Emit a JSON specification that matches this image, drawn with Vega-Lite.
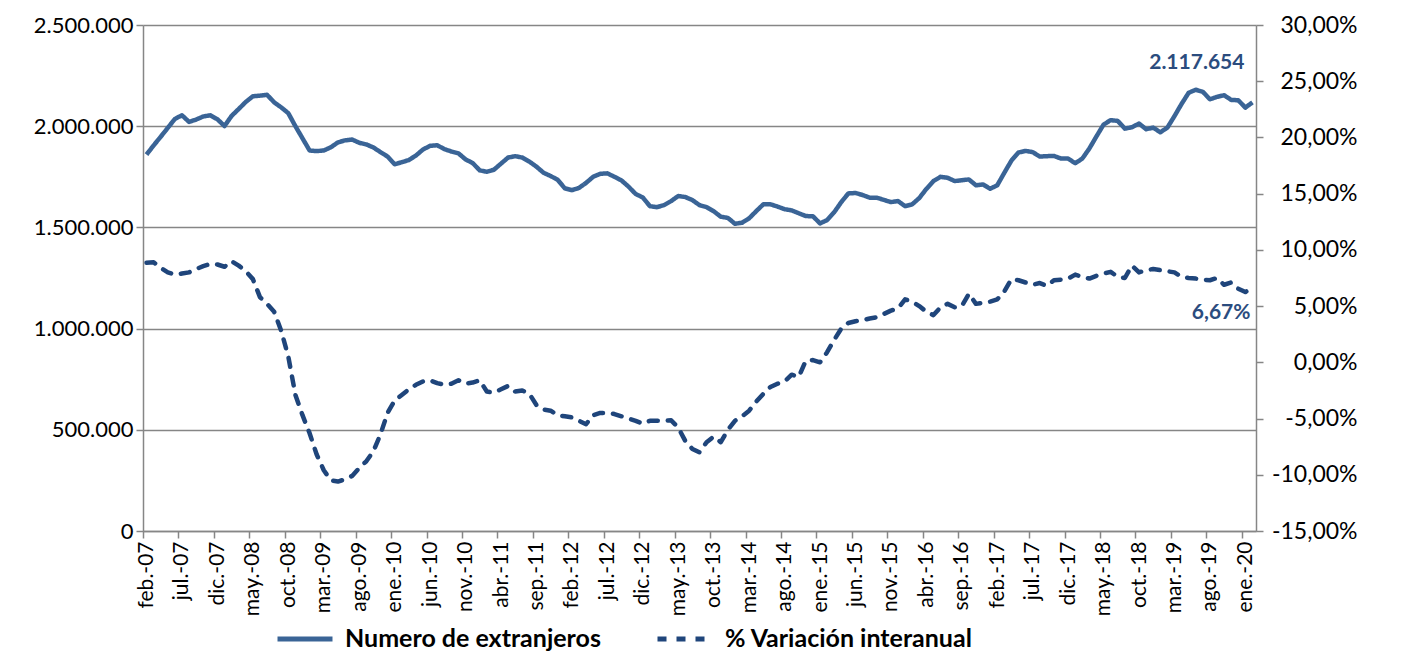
{
  "$schema": "https://vega.github.io/schema/vega-lite/v6.json",
  "width": 1113,
  "height": 506,
  "autosize": "none",
  "padding": {"left": 143, "top": 25, "right": 148, "bottom": 137},
  "background": "white",
  "config": {
    "locale": {"number": {"decimal": ",", "thousands": ".", "grouping": [3], "currency": ["", " €"], "minus": "-"}},
    "view": {"stroke": null},
    "font": "Lato",
    "axis": {"labelFont": "Lato", "labelFontSize": 22, "labelColor": "#000000", "domainColor": "#868686", "domainWidth": 1.5, "tickColor": "#868686", "tickWidth": 1.5, "tickSize": 7, "gridColor": "#868686", "gridWidth": 1.5, "title": null}
  },
  "data": {"values": [
    {"mes":"feb.-07","n":1860000,"p":0.0885},{"mes":"mar.-07","n":1905000,"p":0.089},{"mes":"abr.-07","n":1948000,"p":0.084},{"mes":"may.-07","n":1992000,"p":0.080},{"mes":"jun.-07","n":2036000,"p":0.078},{"mes":"jul.-07","n":2054000,"p":0.079},{"mes":"ago.-07","n":2021000,"p":0.080},{"mes":"sep.-07","n":2033000,"p":0.083},{"mes":"oct.-07","n":2048000,"p":0.0855},{"mes":"nov.-07","n":2054000,"p":0.0875},{"mes":"dic.-07","n":2034000,"p":0.087},
    {"mes":"ene.-08","n":2001000,"p":0.085},{"mes":"feb.-08","n":2051000,"p":0.090},{"mes":"mar.-08","n":2085000,"p":0.086},{"mes":"abr.-08","n":2120000,"p":0.081},{"mes":"may.-08","n":2148000,"p":0.074},{"mes":"jun.-08","n":2151000,"p":0.058},{"mes":"jul.-08","n":2155000,"p":0.052},{"mes":"ago.-08","n":2118000,"p":0.045},{"mes":"sep.-08","n":2093000,"p":0.028},{"mes":"oct.-08","n":2064000,"p":0.005},{"mes":"nov.-08","n":2000000,"p":-0.029},{"mes":"dic.-08","n":1940000,"p":-0.047},
    {"mes":"ene.-09","n":1880000,"p":-0.063},{"mes":"feb.-09","n":1877000,"p":-0.082},{"mes":"mar.-09","n":1880000,"p":-0.096},{"mes":"abr.-09","n":1896000,"p":-0.105},{"mes":"may.-09","n":1920000,"p":-0.106},{"mes":"jun.-09","n":1930000,"p":-0.104},{"mes":"jul.-09","n":1934000,"p":-0.101},{"mes":"ago.-09","n":1918000,"p":-0.094},{"mes":"sep.-09","n":1910000,"p":-0.088},{"mes":"oct.-09","n":1895000,"p":-0.079},{"mes":"nov.-09","n":1872000,"p":-0.064},{"mes":"dic.-09","n":1850000,"p":-0.045},
    {"mes":"ene.-10","n":1812000,"p":-0.034},{"mes":"feb.-10","n":1822000,"p":-0.029},{"mes":"mar.-10","n":1833000,"p":-0.024},{"mes":"abr.-10","n":1855000,"p":-0.020},{"mes":"may.-10","n":1885000,"p":-0.017},{"mes":"jun.-10","n":1903000,"p":-0.016},{"mes":"jul.-10","n":1906000,"p":-0.0185},{"mes":"ago.-10","n":1887000,"p":-0.020},{"mes":"sep.-10","n":1875000,"p":-0.019},{"mes":"oct.-10","n":1866000,"p":-0.016},{"mes":"nov.-10","n":1836000,"p":-0.019},{"mes":"dic.-10","n":1818000,"p":-0.018},
    {"mes":"ene.-11","n":1782000,"p":-0.016},{"mes":"feb.-11","n":1775000,"p":-0.026},{"mes":"mar.-11","n":1785000,"p":-0.027},{"mes":"abr.-11","n":1815000,"p":-0.024},{"mes":"may.-11","n":1845000,"p":-0.021},{"mes":"jun.-11","n":1852000,"p":-0.026},{"mes":"jul.-11","n":1845000,"p":-0.025},{"mes":"ago.-11","n":1825000,"p":-0.028},{"mes":"sep.-11","n":1800000,"p":-0.038},{"mes":"oct.-11","n":1770000,"p":-0.042},{"mes":"nov.-11","n":1754000,"p":-0.043},{"mes":"dic.-11","n":1735000,"p":-0.047},
    {"mes":"ene.-12","n":1693000,"p":-0.048},{"mes":"feb.-12","n":1684000,"p":-0.049},{"mes":"mar.-12","n":1695000,"p":-0.052},{"mes":"abr.-12","n":1720000,"p":-0.055},{"mes":"may.-12","n":1750000,"p":-0.047},{"mes":"jun.-12","n":1765000,"p":-0.045},{"mes":"jul.-12","n":1767000,"p":-0.045},{"mes":"ago.-12","n":1750000,"p":-0.046},{"mes":"sep.-12","n":1732000,"p":-0.048},{"mes":"oct.-12","n":1701000,"p":-0.050},{"mes":"nov.-12","n":1665000,"p":-0.052},{"mes":"dic.-12","n":1648000,"p":-0.0545},
    {"mes":"ene.-13","n":1605000,"p":-0.052},{"mes":"feb.-13","n":1600000,"p":-0.052},{"mes":"mar.-13","n":1610000,"p":-0.052},{"mes":"abr.-13","n":1630000,"p":-0.0516},{"mes":"may.-13","n":1655000,"p":-0.058},{"mes":"jun.-13","n":1650000,"p":-0.070},{"mes":"jul.-13","n":1635000,"p":-0.077},{"mes":"ago.-13","n":1610000,"p":-0.080},{"mes":"sep.-13","n":1600000,"p":-0.071},{"mes":"oct.-13","n":1580000,"p":-0.066},{"mes":"nov.-13","n":1553000,"p":-0.071},{"mes":"dic.-13","n":1547000,"p":-0.060},
    {"mes":"ene.-14","n":1518000,"p":-0.052},{"mes":"feb.-14","n":1523000,"p":-0.048},{"mes":"mar.-14","n":1545000,"p":-0.043},{"mes":"abr.-14","n":1580000,"p":-0.035},{"mes":"may.-14","n":1614000,"p":-0.028},{"mes":"jun.-14","n":1614000,"p":-0.022},{"mes":"jul.-14","n":1603000,"p":-0.019},{"mes":"ago.-14","n":1590000,"p":-0.017},{"mes":"sep.-14","n":1584000,"p":-0.011},{"mes":"oct.-14","n":1570000,"p":-0.013},{"mes":"nov.-14","n":1556000,"p":0.0015},{"mes":"dic.-14","n":1555000,"p":0.002},
    {"mes":"ene.-15","n":1520000,"p":0.000},{"mes":"feb.-15","n":1536000,"p":0.009},{"mes":"mar.-15","n":1575000,"p":0.020},{"mes":"abr.-15","n":1625000,"p":0.030},{"mes":"may.-15","n":1668000,"p":0.035},{"mes":"jun.-15","n":1670000,"p":0.0365},{"mes":"jul.-15","n":1660000,"p":0.0375},{"mes":"ago.-15","n":1647000,"p":0.039},{"mes":"sep.-15","n":1647000,"p":0.040},{"mes":"oct.-15","n":1636000,"p":0.043},{"mes":"nov.-15","n":1625000,"p":0.046},{"mes":"dic.-15","n":1630000,"p":0.048},
    {"mes":"ene.-16","n":1605000,"p":0.056},{"mes":"feb.-16","n":1614000,"p":0.054},{"mes":"mar.-16","n":1645000,"p":0.050},{"mes":"abr.-16","n":1690000,"p":0.045},{"mes":"may.-16","n":1729000,"p":0.042},{"mes":"jun.-16","n":1750000,"p":0.049},{"mes":"jul.-16","n":1745000,"p":0.052},{"mes":"ago.-16","n":1729000,"p":0.049},{"mes":"sep.-16","n":1733000,"p":0.050},{"mes":"oct.-16","n":1737000,"p":0.061},{"mes":"nov.-16","n":1708000,"p":0.052},{"mes":"dic.-16","n":1712000,"p":0.053},
    {"mes":"ene.-17","n":1691000,"p":0.054},{"mes":"feb.-17","n":1708000,"p":0.056},{"mes":"mar.-17","n":1770000,"p":0.063},{"mes":"abr.-17","n":1830000,"p":0.074},{"mes":"may.-17","n":1870000,"p":0.073},{"mes":"jun.-17","n":1878000,"p":0.071},{"mes":"jul.-17","n":1872000,"p":0.069},{"mes":"ago.-17","n":1850000,"p":0.0705},{"mes":"sep.-17","n":1852000,"p":0.068},{"mes":"oct.-17","n":1853000,"p":0.073},{"mes":"nov.-17","n":1840000,"p":0.0735},{"mes":"dic.-17","n":1840000,"p":0.0745},
    {"mes":"ene.-18","n":1817000,"p":0.078},{"mes":"feb.-18","n":1840000,"p":0.076},{"mes":"mar.-18","n":1890000,"p":0.0745},{"mes":"abr.-18","n":1950000,"p":0.077},{"mes":"may.-18","n":2008000,"p":0.079},{"mes":"jun.-18","n":2030000,"p":0.0805},{"mes":"jul.-18","n":2026000,"p":0.076},{"mes":"ago.-18","n":1988000,"p":0.075},{"mes":"sep.-18","n":1995000,"p":0.086},{"mes":"oct.-18","n":2013000,"p":0.080},{"mes":"nov.-18","n":1985000,"p":0.082},{"mes":"dic.-18","n":1993000,"p":0.083},
    {"mes":"ene.-19","n":1970000,"p":0.082},{"mes":"feb.-19","n":1993000,"p":0.081},{"mes":"mar.-19","n":2050000,"p":0.080},{"mes":"abr.-19","n":2110000,"p":0.076},{"mes":"may.-19","n":2165000,"p":0.075},{"mes":"jun.-19","n":2180000,"p":0.0745},{"mes":"jul.-19","n":2170000,"p":0.0735},{"mes":"ago.-19","n":2133000,"p":0.073},{"mes":"sep.-19","n":2145000,"p":0.075},{"mes":"oct.-19","n":2153000,"p":0.069},{"mes":"nov.-19","n":2130000,"p":0.071},{"mes":"dic.-19","n":2128000,"p":0.0655},
    {"mes":"ene.-20","n":2092000,"p":0.0625},{"mes":"feb.-20","n":2117654,"p":0.0667}
  ]},
  "encoding": {
    "x": {"field": "mes", "type": "ordinal", "sort": null, "scale": {"type": "point", "padding": 0.5},
      "axis": {"values": ["feb.-07","jul.-07","dic.-07","may.-08","oct.-08","mar.-09","ago.-09","ene.-10","jun.-10","nov.-10","abr.-11","sep.-11","feb.-12","jul.-12","dic.-12","may.-13","oct.-13","mar.-14","ago.-14","ene.-15","jun.-15","nov.-15","abr.-16","sep.-16","feb.-17","jul.-17","dic.-17","may.-18","oct.-18","mar.-19","ago.-19","ene.-20"],
        "labelAngle": -90, "labelAlign": "right", "labelBaseline": "middle", "labelFontSize": 21, "labelPadding": 3, "tickOffset": -3.545, "labelOffset": 3.545, "grid": false}}
  },
  "layer": [
    {
      "encoding": {
        "y": {"field": "n", "type": "quantitative", "scale": {"domain": [0, 2500000], "nice": false, "zero": false},
          "axis": {"orient": "left", "values": [0, 500000, 1000000, 1500000, 2000000, 2500000], "format": ",d", "grid": true, "labelPadding": 3}}
      },
      "layer": [
        {
          "mark": {"type": "line", "strokeWidth": 4.5, "strokeJoin": "round", "strokeCap": "butt"},
          "encoding": {
            "color": {"datum": "Numero de extranjeros", "type": "nominal",
              "scale": {"domain": ["Numero de extranjeros", "% Variación interanual"], "range": ["#3A6496", "#1F457B"]},
              "legend": {"orient": "none", "legendX": 132, "legendY": 584, "direction": "horizontal", "title": null, "symbolType": "stroke", "symbolSize": 3025, "symbolStrokeWidth": 5, "labelFont": "Lato", "labelFontSize": 25, "labelFontWeight": "bold", "labelColor": "#000000", "labelOffset": 10, "columnPadding": 46, "labelLimit": 500}},
            "strokeDash": {"datum": "Numero de extranjeros", "type": "nominal",
              "scale": {"domain": ["Numero de extranjeros", "% Variación interanual"], "range": [[1, 0], [9, 10]]},
              "legend": {"orient": "none", "legendX": 132, "legendY": 584, "direction": "horizontal", "title": null, "symbolType": "stroke", "symbolSize": 3025, "symbolStrokeWidth": 5, "labelFont": "Lato", "labelFontSize": 25, "labelFontWeight": "bold", "labelColor": "#000000", "labelOffset": 10, "columnPadding": 46, "labelLimit": 500}}
          }
        },
        {
          "transform": [{"filter": "datum.mes == 'feb.-20'"}],
          "mark": {"type": "text", "align": "right", "baseline": "middle", "dx": -8, "dy": -39, "font": "Lato", "fontSize": 21, "fontWeight": "bold", "color": "#2B4C7E"},
          "encoding": {"text": {"field": "n", "type": "quantitative", "format": ",d"}}
        }
      ]
    },
    {
      "encoding": {
        "y": {"field": "p", "type": "quantitative", "scale": {"domain": [-0.15, 0.30], "nice": false, "zero": false},
          "axis": {"orient": "right", "values": [-0.15, -0.10, -0.05, 0, 0.05, 0.10, 0.15, 0.20, 0.25, 0.30], "format": ".2%", "grid": false, "labelAlign": "right", "labelFontSize": 23, "labelPadding": 94}}
      },
      "layer": [
        {
          "mark": {"type": "line", "strokeWidth": 4.5, "strokeJoin": "round", "strokeCap": "round"},
          "encoding": {
            "color": {"datum": "% Variación interanual", "type": "nominal"},
            "strokeDash": {"datum": "% Variación interanual", "type": "nominal"}
          }
        },
        {
          "transform": [{"filter": "datum.mes == 'feb.-20'"}],
          "mark": {"type": "text", "align": "right", "baseline": "middle", "dx": -2, "dy": 26, "font": "Lato", "fontSize": 21, "fontWeight": "bold", "color": "#2B4C7E"},
          "encoding": {"text": {"field": "p", "type": "quantitative", "format": ".2%"}}
        }
      ]
    }
  ],
  "resolve": {"scale": {"y": "independent"}}
}
